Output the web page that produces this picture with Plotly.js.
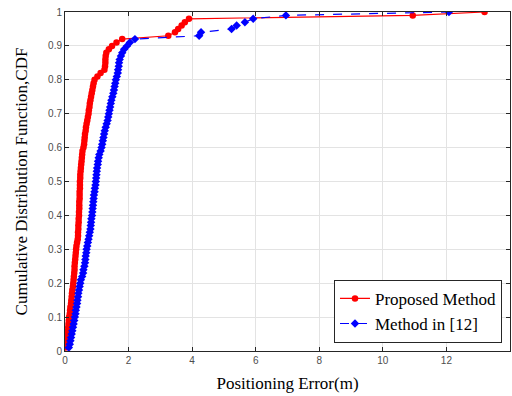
<!DOCTYPE html>
<html>
<head>
<meta charset="utf-8">
<script src="https://cdn.plot.ly/plotly-3.0.1.min.js"></script>
<style>html,body{margin:0;padding:0;background:#fff;}#chart{width:512px;height:396px;}</style>
</head>
<body>
<div id="chart"></div>
<script>
// Proposed Method: positioning error (m) and CDF
const proposedError = [
  0.02,0.05,0.06,0.07,0.08,0.09,0.10,0.11,0.12,0.13,
  0.15,0.16,0.17,0.19,0.20,0.21,0.22,0.23,0.25,0.26,
  0.27,0.28,0.29,0.30,0.30,0.31,0.32,0.33,0.34,0.35,
  0.36,0.38,0.40,0.41,0.41,0.42,0.42,0.43,0.43,0.44,
  0.44,0.45,0.45,0.45,0.46,0.46,0.46,0.47,0.47,0.47,
  0.48,0.48,0.49,0.50,0.51,0.52,0.53,0.54,0.55,0.58,
  0.60,0.61,0.62,0.63,0.65,0.66,0.68,0.70,0.72,0.74,
  0.75,0.77,0.78,0.80,0.82,0.84,0.86,0.88,0.90,0.93,
  1.02,1.12,1.24,1.26,1.27,1.27,1.28,1.30,1.38,1.48,
  1.62,1.80,3.25,3.46,3.56,3.67,3.77,3.90,10.94,13.20
];
const proposedCDF = [
  0.01,0.02,0.03,0.04,0.05,0.06,0.07,0.08,0.09,0.10,
  0.11,0.12,0.13,0.14,0.15,0.16,0.17,0.18,0.19,0.20,
  0.21,0.22,0.23,0.24,0.25,0.26,0.27,0.28,0.29,0.30,
  0.31,0.32,0.33,0.34,0.35,0.36,0.37,0.38,0.39,0.40,
  0.41,0.42,0.43,0.44,0.45,0.46,0.47,0.48,0.49,0.50,
  0.51,0.52,0.53,0.54,0.55,0.56,0.57,0.58,0.59,0.60,
  0.61,0.62,0.63,0.64,0.65,0.66,0.67,0.68,0.69,0.70,
  0.71,0.72,0.73,0.74,0.75,0.76,0.77,0.78,0.79,0.80,
  0.81,0.82,0.83,0.84,0.85,0.86,0.87,0.88,0.89,0.90,
  0.91,0.92,0.93,0.94,0.95,0.96,0.97,0.98,0.99,1.00
];
// Method in [12]
const refError = [
  0.12,0.15,0.17,0.19,0.21,0.23,0.25,0.27,0.29,0.31,
  0.33,0.34,0.36,0.38,0.39,0.41,0.42,0.44,0.46,0.48,
  0.50,0.54,0.57,0.58,0.61,0.63,0.64,0.65,0.67,0.68,
  0.70,0.72,0.74,0.76,0.78,0.80,0.81,0.82,0.83,0.85,
  0.86,0.87,0.88,0.89,0.90,0.91,0.93,0.94,0.96,0.97,
  0.98,0.99,1.00,1.01,1.03,1.04,1.06,1.08,1.12,1.15,
  1.17,1.19,1.21,1.23,1.25,1.28,1.31,1.34,1.36,1.38,
  1.40,1.42,1.44,1.46,1.49,1.52,1.54,1.56,1.58,1.60,
  1.63,1.66,1.67,1.69,1.70,1.72,1.76,1.80,1.86,1.95,
  2.04,2.20,4.22,4.28,5.24,5.40,5.66,5.92,6.95,12.08
];
const refCDF = [
  0.01,0.02,0.03,0.04,0.05,0.06,0.07,0.08,0.09,0.10,
  0.11,0.12,0.13,0.14,0.15,0.16,0.17,0.18,0.19,0.20,
  0.21,0.22,0.23,0.24,0.25,0.26,0.27,0.28,0.29,0.30,
  0.31,0.32,0.33,0.34,0.35,0.36,0.37,0.38,0.39,0.40,
  0.41,0.42,0.43,0.44,0.45,0.46,0.47,0.48,0.49,0.50,
  0.51,0.52,0.53,0.54,0.55,0.56,0.57,0.58,0.59,0.60,
  0.61,0.62,0.63,0.64,0.65,0.66,0.67,0.68,0.69,0.70,
  0.71,0.72,0.73,0.74,0.75,0.76,0.77,0.78,0.79,0.80,
  0.81,0.82,0.83,0.84,0.85,0.86,0.87,0.88,0.89,0.90,
  0.91,0.92,0.93,0.94,0.95,0.96,0.97,0.98,0.99,1.00
];
const seriesNames = ["Proposed Method", "Method in [12]"];
const xTitle = "Positioning Error(m)";
const yTitle = "Cumulative Distribution Function,CDF";

const axisCommon = {
  showline: true, linecolor: '#262626', linewidth: 1, mirror: 'ticks',
  ticks: 'inside', ticklen: 4, tickcolor: '#262626',
  showgrid: true, gridcolor: '#e3e3e3', gridwidth: 1, zeroline: false,
  tickfont: {family: 'Liberation Sans, Arial, sans-serif', size: 10, color: '#4d4d4d'}
};

const traces = [
  {x: proposedError, y: proposedCDF, name: seriesNames[0], type: 'scatter', mode: 'lines+markers',
   line: {color: '#ff0000', width: 1.2}, marker: {symbol: 'circle', size: 6.5, color: '#ff0000'}},
  {x: refError, y: refCDF, name: seriesNames[1], type: 'scatter', mode: 'lines+markers',
   line: {color: '#0000ff', width: 1.2, dash: 'dash'}, marker: {symbol: 'diamond', size: 6.5, color: '#0000ff'}}
];

const layout = {
  width: 512, height: 396,
  margin: {l: 65, r: 2, t: 12, b: 45, pad: 0},
  paper_bgcolor: '#ffffff', plot_bgcolor: '#ffffff',
  showlegend: true,
  legend: {x: 0.982, y: 0.024, xanchor: 'right', yanchor: 'bottom',
    bgcolor: '#ffffff', bordercolor: '#262626', borderwidth: 1,
    font: {family: 'Liberation Serif, Times New Roman, serif', size: 17, color: '#000'},
    tracegroupgap: 0, itemwidth: 30},
  xaxis: Object.assign({}, axisCommon, {range: [0, 14], dtick: 2, tick0: 0,
    title: {text: xTitle, standoff: 12, font: {family: 'Liberation Serif, Times New Roman, serif', size: 17, color: '#000'}}}),
  yaxis: Object.assign({}, axisCommon, {range: [0, 1], dtick: 0.1, tick0: 0,
    title: {text: yTitle, standoff: 16, font: {family: 'Liberation Serif, Times New Roman, serif', size: 17, color: '#000'}}})
};
layout.xaxis.automargin = false;
layout.yaxis.automargin = false;

Plotly.newPlot('chart', traces, layout, {displayModeBar: false, staticPlot: true});
</script>
</body>
</html>
